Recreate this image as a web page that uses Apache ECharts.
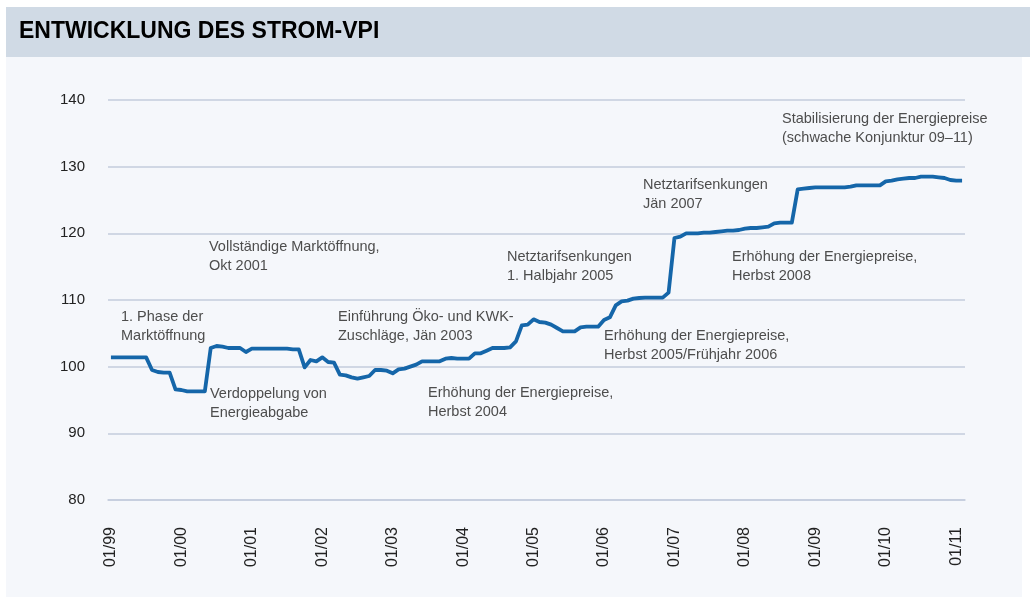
<!DOCTYPE html>
<html>
<head>
<meta charset="utf-8">
<script src="https://cdn.jsdelivr.net/npm/echarts@6/dist/echarts.min.js"></script>
<style>
  html, body { margin: 0; padding: 0; background: #ffffff; }
  #main { width: 1030px; height: 597px; }
</style>
</head>
<body>
<div id="main"></div>
<script>
// Strom-VPI, Monatswerte 01/1999 - 02/2011
var startYear = 1999;
var monthCount = 146;

var vpi1999 = [101.4, 101.4, 101.4, 101.4, 101.4, 101.4, 101.4, 99.5, 99.2, 99.1, 99.1, 96.6];
var vpi2000 = [96.5, 96.3, 96.3, 96.3, 96.3, 102.8, 103.1, 103.0, 102.8, 102.8, 102.8, 102.2];
var vpi2001 = [102.7, 102.7, 102.7, 102.7, 102.7, 102.7, 102.7, 102.6, 102.6, 99.9, 101.0, 100.8];
var vpi2002 = [101.4, 100.7, 100.6, 98.8, 98.7, 98.4, 98.2, 98.4, 98.6, 99.5, 99.5, 99.4];
var vpi2003 = [99.0, 99.6, 99.7, 100.0, 100.3, 100.8, 100.8, 100.8, 100.8, 101.2, 101.3, 101.2];
var vpi2004 = [101.2, 101.2, 102.0, 102.0, 102.4, 102.8, 102.8, 102.8, 102.9, 103.8, 106.2, 106.3];
var vpi2005 = [107.1, 106.7, 106.6, 106.3, 105.8, 105.3, 105.3, 105.3, 105.9, 106.0, 106.0, 106.0];
var vpi2006 = [107.0, 107.4, 109.2, 109.8, 109.9, 110.2, 110.3, 110.35, 110.35, 110.35, 110.35, 111.1];
var vpi2007 = [119.3, 119.5, 120.0, 120.0, 120.0, 120.1, 120.1, 120.2, 120.3, 120.4, 120.4, 120.5];
var vpi2008 = [120.7, 120.8, 120.8, 120.9, 121.0, 121.5, 121.6, 121.6, 121.6, 126.6, 126.7, 126.8];
var vpi2009 = [126.9, 126.9, 126.9, 126.9, 126.9, 126.9, 127.0, 127.2, 127.2, 127.2, 127.2, 127.2];
var vpi2010 = [127.8, 127.9, 128.1, 128.2, 128.3, 128.3, 128.5, 128.5, 128.5, 128.4, 128.3, 128.0];
var vpi2011 = [127.9, 127.9];

var yTicks = [80, 90, 100, 110, 120, 130, 140];

var annotations = [
  ['Stabilisierung der Energiepreise', '(schwache Konjunktur 09–11)'],
  ['Netztarifsenkungen', 'Jän 2007'],
  ['Vollständige Marktöffnung,', 'Okt 2001'],
  ['Netztarifsenkungen', '1. Halbjahr 2005'],
  ['Erhöhung der Energiepreise,', 'Herbst 2008'],
  ['1. Phase der', 'Marktöffnung'],
  ['Einführung Öko- und KWK-', 'Zuschläge, Jän 2003'],
  ['Erhöhung der Energiepreise,', 'Herbst 2005/Frühjahr 2006'],
  ['Verdoppelung von', 'Energieabgabe'],
  ['Erhöhung der Energiepreise,', 'Herbst 2004']
];
// Position der Textblöcke (linke obere Ecke)
var annotationPos = [
  [782, 109], [643, 175], [209, 237], [507, 247], [732, 247],
  [121, 307], [338, 307], [604, 326], [210, 384], [428, 383]
];

var vpi = [].concat(vpi1999, vpi2000, vpi2001, vpi2002, vpi2003, vpi2004,
  vpi2005, vpi2006, vpi2007, vpi2008, vpi2009, vpi2010, vpi2011);

var months = [];
for (var i = 0; i < monthCount; i++) {
  var y = (startYear + Math.floor(i / 12)) % 100;
  var m = (i % 12) + 1;
  months.push((m < 10 ? '0' + m : '' + m) + '/' + (y < 10 ? '0' + y : '' + y));
}

var graphics = [
  { type: 'rect', shape: { x: 6, y: 7, width: 1024, height: 50 }, style: { fill: '#d0dae5' }, silent: true, z: -10 },
  { type: 'rect', shape: { x: 6, y: 57, width: 1016, height: 540 }, style: { fill: '#f5f7fb' }, silent: true, z: -10 },
  { type: 'text', x: 19, y: 20, style: { text: 'ENTWICKLUNG DES STROM-VPI', fill: '#000000',
      font: 'bold 23px "Liberation Sans", Arial, sans-serif' }, silent: true }
];
annotations.forEach(function (a, k) {
  graphics.push({
    type: 'text', x: annotationPos[k][0], y: annotationPos[k][1],
    style: { text: a.join('\n'), fill: '#4d4d4d', lineHeight: 19,
      font: '14.5px "Liberation Sans", Arial, sans-serif' },
    silent: true
  });
});

var chart = echarts.init(document.getElementById('main'));
chart.setOption({
  animation: false,
  backgroundColor: 'transparent',
  graphic: graphics,
  grid: { left: 108, right: 65, top: 100, bottom: 97 },
  xAxis: {
    type: 'category',
    data: months,
    boundaryGap: true,
    axisLine: { lineStyle: { color: '#c3cddd', width: 1.5 } },
    axisTick: {
      alignWithLabel: true, length: 7,
      interval: function (idx) { return idx % 12 === 0; },
      lineStyle: { color: '#b8c4d8', width: 1.5 }
    },
    axisLabel: {
      interval: function (idx) { return idx % 12 === 0; },
      rotate: 90, margin: 27, fontSize: 16, color: '#222222',
      fontFamily: '"Liberation Sans", Arial, sans-serif'
    }
  },
  yAxis: {
    type: 'value',
    min: yTicks[0], max: yTicks[yTicks.length - 1], interval: 10,
    axisLine: { show: false },
    axisTick: { show: false },
    axisLabel: { margin: 23, fontSize: 15, color: '#222222',
      fontFamily: '"Liberation Sans", Arial, sans-serif' },
    splitLine: { lineStyle: { color: '#c3cddd', width: 1.5 } }
  },
  series: [{
    type: 'line',
    data: vpi,
    showSymbol: false,
    lineStyle: { color: '#1566a9', width: 3.8, join: 'round' },
    itemStyle: { color: '#1566a9' }
  }]
});
</script>
</body>
</html>
